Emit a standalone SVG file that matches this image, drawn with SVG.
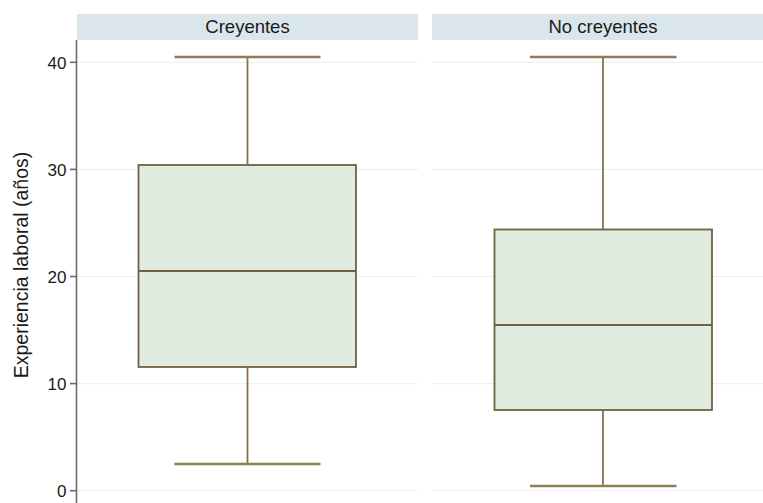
<svg xmlns="http://www.w3.org/2000/svg" width="763" height="503" viewBox="0 0 763 503">
<style>
text{font-family:"Liberation Sans",Arial,sans-serif;fill:#1a1a1a}
.hdr{fill:#dbe5ec}
.grid{stroke:#eaf1f2;stroke-width:1.2}
.axis{stroke:#6b6b6b;stroke-width:1.6}
.box{fill:#e1ece0;stroke:#6f6240;stroke-width:1.8}
.wh{stroke:#84734d;stroke-width:1.8;fill:none}
.cap{stroke:#8f7e57;stroke-width:2.6}
.tl{font-size:17px;text-anchor:end}
</style>
<rect width="763" height="503" fill="#ffffff"/>
<g id="headers">
<rect class="hdr" x="77" y="14" width="341" height="26"/>
<text x="247.5" y="33" font-size="18.5" text-anchor="middle">Creyentes</text>
<rect class="hdr" x="432" y="14" width="331" height="26"/>
<text x="603" y="33" font-size="18.5" text-anchor="middle">No creyentes</text>
</g>
<g id="grid">
<line class="grid" x1="77" y1="62.3" x2="418" y2="62.3"/><line class="grid" x1="432" y1="62.3" x2="763" y2="62.3"/>
<line class="grid" x1="77" y1="169.4" x2="418" y2="169.4"/><line class="grid" x1="432" y1="169.4" x2="763" y2="169.4"/>
<line class="grid" x1="77" y1="276.5" x2="418" y2="276.5"/><line class="grid" x1="432" y1="276.5" x2="763" y2="276.5"/>
<line class="grid" x1="77" y1="383.6" x2="418" y2="383.6"/><line class="grid" x1="432" y1="383.6" x2="763" y2="383.6"/>
<line class="grid" x1="77" y1="490.7" x2="418" y2="490.7"/><line class="grid" x1="432" y1="490.7" x2="763" y2="490.7"/>
</g>
<g id="axis">
<line class="axis" x1="76.5" y1="40" x2="76.5" y2="503"/>
<line class="axis" x1="70" y1="62.3" x2="76.5" y2="62.3"/>
<line class="axis" x1="70" y1="169.4" x2="76.5" y2="169.4"/>
<line class="axis" x1="70" y1="276.5" x2="76.5" y2="276.5"/>
<line class="axis" x1="70" y1="383.6" x2="76.5" y2="383.6"/>
<line class="axis" x1="70" y1="490.7" x2="76.5" y2="490.7"/>
<text class="tl" x="66.5" y="68.5">40</text>
<text class="tl" x="66.5" y="175.6">30</text>
<text class="tl" x="66.5" y="282.7">20</text>
<text class="tl" x="66.5" y="389.8">10</text>
<text class="tl" x="66.5" y="496.9">0</text>
<text x="27.5" y="265" font-size="19.5" text-anchor="middle" transform="rotate(-90 27.5 265)">Experiencia laboral (años)</text>
</g>
<g id="box-creyentes">
<line class="wh" x1="247.5" y1="57" x2="247.5" y2="165"/>
<line class="wh" x1="247.5" y1="367" x2="247.5" y2="464"/>
<line class="cap" x1="174.5" y1="57" x2="320.5" y2="57"/>
<line class="cap" x1="174.5" y1="464" x2="320.5" y2="464"/>
<rect class="box" x="138.5" y="165" width="217.5" height="202"/>
<line class="box" x1="138.5" y1="271" x2="356" y2="271"/>
</g>
<g id="box-no-creyentes">
<line class="wh" x1="603" y1="57" x2="603" y2="229.5"/>
<line class="wh" x1="603" y1="410" x2="603" y2="486"/>
<line class="cap" x1="530" y1="57" x2="676.5" y2="57"/>
<line class="cap" x1="530" y1="486" x2="676.5" y2="486"/>
<rect class="box" x="494.5" y="229.5" width="217.5" height="180.5"/>
<line class="box" x1="494.5" y1="325" x2="712" y2="325"/>
</g>
</svg>
